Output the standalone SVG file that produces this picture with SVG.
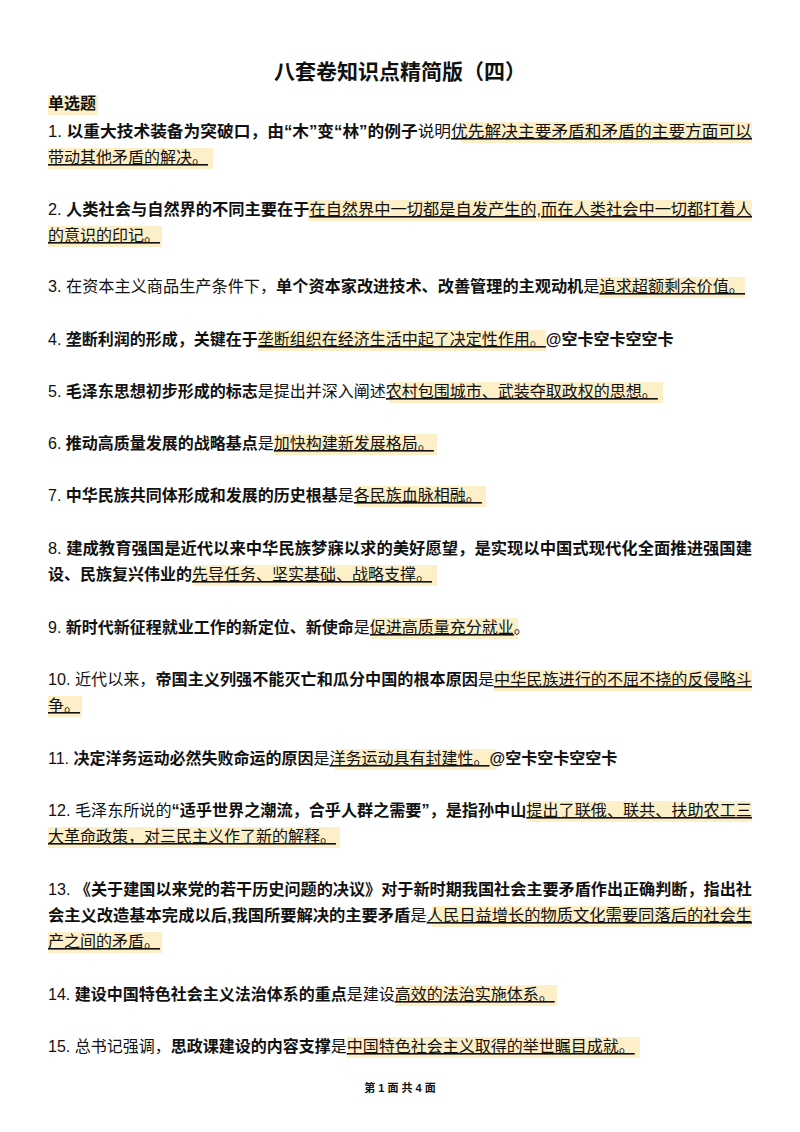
<svg xmlns="http://www.w3.org/2000/svg" width="800" height="1132" viewBox="0 0 800 1132">
<style>
text{font-family:"Liberation Sans","Noto Sans CJK SC",sans-serif;font-size:16px;fill:#111}
.b{font-weight:bold}
.u{text-decoration:underline}
.h{fill:#fdf0c8}
.t{font-size:21px;font-weight:bold}
.f{font-size:11px;font-weight:bold}
</style>
<rect width="800" height="1132" fill="#fff"/>
<g id="highlights">
<rect class="h" x="48" y="95" width="50" height="20"/>
<rect class="h" x="461" y="122" width="291" height="21"/>
<rect class="h" x="48" y="148" width="165" height="21"/>
<rect class="h" x="308" y="200" width="444" height="21"/>
<rect class="h" x="48" y="226" width="114" height="21"/>
<rect class="h" x="597" y="277" width="148" height="21"/>
<rect class="h" x="258" y="330" width="288" height="21"/>
<rect class="h" x="389" y="382" width="274" height="21"/>
<rect class="h" x="274" y="434" width="163" height="21"/>
<rect class="h" x="356" y="486" width="130" height="21"/>
<rect class="h" x="193" y="565" width="244" height="21"/>
<rect class="h" x="371" y="618" width="147" height="21"/>
<rect class="h" x="493" y="670" width="259" height="21"/>
<rect class="h" x="48" y="696" width="34" height="21"/>
<rect class="h" x="335" y="749" width="161" height="21"/>
<rect class="h" x="528" y="801" width="224" height="21"/>
<rect class="h" x="48" y="827" width="292" height="21"/>
<rect class="h" x="432" y="906" width="320" height="21"/>
<rect class="h" x="48" y="932" width="114" height="21"/>
<rect class="h" x="396" y="985" width="161" height="21"/>
<rect class="h" x="347" y="1037" width="293" height="21"/>
</g>
<g id="texts">
<text class="t" x="400" y="79" text-anchor="middle">八套卷知识点精简版（四）</text>
<text class="b" x="48" y="109">单选题</text>
<text x="48" y="137" textLength="704" lengthAdjust="spacingAndGlyphs">1. <tspan class="b">以重大技术装备为突破口，由“木”变“林”的例子</tspan>说明<tspan class="u">优先解决主要矛盾和矛盾的主要方面可以</tspan></text>
<text x="48" y="163"><tspan class="u">带动其他矛盾的解决。</tspan></text>
<text x="48" y="215" textLength="704" lengthAdjust="spacingAndGlyphs">2. <tspan class="b">人类社会与自然界的不同主要在于</tspan><tspan class="u">在自然界中一切都是自发产生的,而在人类社会中一切都打着人</tspan></text>
<text x="48" y="241"><tspan class="u">的意识的印记。</tspan></text>
<text x="48" y="292" textLength="697" lengthAdjust="spacingAndGlyphs">3. 在资本主义商品生产条件下，<tspan class="b">单个资本家改进技术、改善管理的主观动机</tspan>是<tspan class="u">追求超额剩余价值。</tspan></text>
<text x="48" y="345">4. <tspan class="b">垄断利润的形成，关键在于</tspan><tspan class="u">垄断组织在经济生活中起了决定性作用。</tspan><tspan class="b">@空卡空卡空空卡</tspan></text>
<text x="48" y="397">5. <tspan class="b">毛泽东思想初步形成的标志</tspan>是提出并深入阐述<tspan class="u">农村包围城市、武装夺取政权的思想。</tspan></text>
<text x="48" y="449">6. <tspan class="b">推动高质量发展的战略基点</tspan>是<tspan class="u">加快构建新发展格局。</tspan></text>
<text x="48" y="501">7. <tspan class="b">中华民族共同体形成和发展的历史根基</tspan>是<tspan class="u">各民族血脉相融。</tspan></text>
<text class="b" x="48" y="554" textLength="704" lengthAdjust="spacingAndGlyphs"><tspan font-weight="normal">8. </tspan>建成教育强国是近代以来中华民族梦寐以求的美好愿望，是实现以中国式现代化全面推进强国建</text>
<text x="48" y="580"><tspan class="b">设、民族复兴伟业的</tspan><tspan class="u">先导任务、坚实基础、战略支撑。</tspan></text>
<text x="48" y="633">9. <tspan class="b">新时代新征程就业工作的新定位、新使命</tspan>是<tspan class="u">促进高质量充分就业</tspan>。</text>
<text x="48" y="685" textLength="704" lengthAdjust="spacingAndGlyphs">10. 近代以来，<tspan class="b">帝国主义列强不能灭亡和瓜分中国的根本原因</tspan>是<tspan class="u">中华民族进行的不屈不挠的反侵略斗</tspan></text>
<text x="48" y="711"><tspan class="u">争。</tspan></text>
<text x="48" y="764">11. <tspan class="b">决定洋务运动必然失败命运的原因</tspan>是<tspan class="u">洋务运动具有封建性。</tspan><tspan class="b">@空卡空卡空空卡</tspan></text>
<text x="48" y="816" textLength="704" lengthAdjust="spacingAndGlyphs">12. 毛泽东所说的<tspan class="b">“适乎世界之潮流，合乎人群之需要”，是指孙中山</tspan><tspan class="u">提出了联俄、联共、扶助农工三</tspan></text>
<text x="48" y="842"><tspan class="u">大革命政策，对三民主义作了新的解释。</tspan></text>
<text x="48" y="895" textLength="704" lengthAdjust="spacingAndGlyphs">13. <tspan class="b">《关于建国以来党的若干历史问题的决议》对于新时期我国社会主要矛盾作出正确判断，指出社</tspan></text>
<text x="48" y="921" textLength="704" lengthAdjust="spacingAndGlyphs"><tspan class="b">会主义改造基本完成以后,我国所要解决的主要矛盾</tspan>是<tspan class="u">人民日益增长的物质文化需要同落后的社会生</tspan></text>
<text x="48" y="947"><tspan class="u">产之间的矛盾。</tspan></text>
<text x="48" y="1000">14. <tspan class="b">建设中国特色社会主义法治体系的重点</tspan>是建设<tspan class="u">高效的法治实施体系。</tspan></text>
<text x="48" y="1052">15. 总书记强调，<tspan class="b">思政课建设的内容支撑</tspan>是<tspan class="u">中国特色社会主义取得的举世瞩目成就。</tspan></text>
<text class="f" x="400" y="1092" text-anchor="middle" xml:space="preserve">第 1 面 共 4 面</text>
</g>
</svg>
